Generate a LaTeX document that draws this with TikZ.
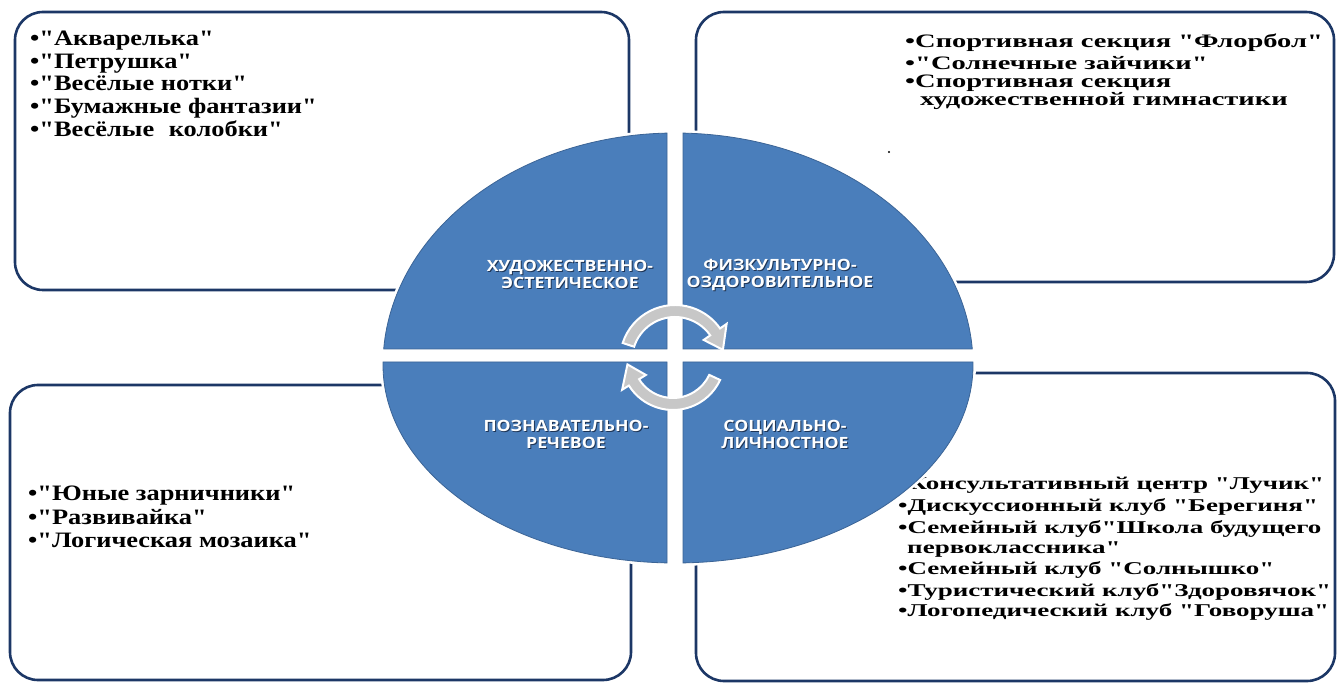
\documentclass[tikz,border=0pt]{standalone}
\usepackage{fontspec}
\newfontfamily\listfont{Liberation Serif}
\newfontfamily\labfont{Open Sans}
\usepackage{graphicx}
\definecolor{qblue}{HTML}{4A7EBB}
\definecolor{qedge}{HTML}{3B6496}
\definecolor{navy}{HTML}{1C3766}
\definecolor{shade}{HTML}{1E3556}
\newcommand\wideA[1]{\scalebox{1.2}[1]{#1}}
\newcommand\wideB[1]{\scalebox{1.5}[1]{#1}}
\newcommand\wideL[1]{\scalebox{1.14}[1]{#1}}
\tikzset{
 panel/.style={draw=navy, line width=2.6pt, rounded corners=28pt, fill=white, inner sep=0pt, outer sep=0pt},
 quad/.style={fill=qblue, draw=qedge, line width=0.8pt, preaction={draw=white, line width=6pt}},
 itemA/.style={anchor=base west, inner sep=0pt, font=\listfont\bfseries\fontsize{22}{22}\selectfont},
 itemB/.style={anchor=base west, inner sep=0pt, font=\listfont\bfseries\fontsize{19}{19}\selectfont},
 itemC/.style={anchor=base west, inner sep=0pt, font=\listfont\bfseries\fontsize{18}{18}\selectfont},
 lab/.style={align=center, text=white, font=\labfont\bfseries\fontsize{15.5}{17}\selectfont, inner sep=0pt},
 labsh/.style={lab, text=shade},
 cyc/.style={fill=black!22, draw=white, line width=2pt},
}
\begin{document}
\begin{tikzpicture}[x=1pt,y=1pt]
\useasboundingbox (0,0) rectangle (1337,683);
\fill[white] (0,0) rectangle (1337,683);

% panels
\node[panel, minimum width=614, minimum height=278] (tl) at (322,532) {};
\node[panel, minimum width=638, minimum height=270] (tr) at (1015,536) {};
\node[panel, minimum width=621, minimum height=295] (bl) at (320.5,150.5) {};
\node[panel, minimum width=639, minimum height=308] (br) at (1015.5,156) {};

% top-left list
\node[itemA] (tl1) at (30,637) {\wideA{•"Акварелька"}};
\node[itemA] (tl2) at (30,614) {\wideA{•"Петрушка"}};
\node[itemA] (tl3) at (30,592) {\wideA{•"Весёлые нотки"}};
\node[itemA] (tl4) at (30,569) {\wideA{•"Бумажные фантазии"}};
\node[itemA] (tl5) at (30,546) {\wideA{•"Весёлые\hspace{0.3em} колобки"}};

% top-right list
\node[itemB] (tr1) at (905,635) {\wideB{•Спортивная секция "Флорбол"}};
\node[itemB] (tr2) at (905,613) {\wideB{•"Солнечные зайчики"}};
\node[itemB] (tr3) at (905,595) {\wideB{•Спортивная секция}};
\node[itemB] (tr4) at (920,577) {\wideB{художественной гимнастики}};
\fill (889,531) circle (1.2);

% bottom-left list
\node[itemA] (bl1) at (28,183) {\wideA{•"Юные зарничники"}};
\node[itemA] (bl2) at (28,159) {\wideA{•"Развивайка"}};
\node[itemA] (bl3) at (28,136) {\wideA{•"Логическая мозаика"}};

% bottom-right list
\node[itemC] (br1) at (898,194) {\wideB{•Консультативный центр "Лучик"}};
\node[itemC] (br2) at (898,172) {\wideB{•Дискуссионный клуб "Берегиня"}};
\node[itemC] (br3) at (898,150) {\wideB{•Семейный клуб"Школа будущего}};
\node[itemC] (br4) at (907,130) {\wideB{первоклассника"}};
\node[itemC] (br5) at (898,109) {\wideB{•Семейный клуб "Солнышко"}};
\node[itemC] (br6) at (898,87) {\wideB{•Туристический клуб"Здоровячок"}};
\node[itemC] (br7) at (898,67) {\wideB{•Логопедический клуб "Говоруша"}};

% quadrants of the ellipse
\pgfmathsetmacro\ulA{180-asin(16/232)}
\pgfmathsetmacro\ulB{90+asin(8/292)}
\pgfmathsetmacro\urA{asin(16/232)}
\pgfmathsetmacro\urB{90-asin(8/298)}
\pgfmathsetmacro\llA{180-asin(3/198)}
\pgfmathsetmacro\llB{270-asin(8/292)}
\pgfmathsetmacro\lrA{asin(3/198)}
\pgfmathsetmacro\lrB{-90+asin(8/298)}
\path[quad] (667,334) -- ({675+292*cos(\ulA)},334) arc[start angle=\ulA, end angle=\ulB, x radius=292, y radius=232] -- cycle;
\path[quad] (683,334) -- ({675+298*cos(\urA)},334) arc[start angle=\urA, end angle=\urB, x radius=298, y radius=232] -- cycle;
\path[quad] (667,321) -- ({675+292*cos(\llA)},321) arc[start angle=\llA, end angle=\llB, x radius=292, y radius=198] -- cycle;
\path[quad] (683,321) -- ({675+298*cos(\lrA)},321) arc[start angle=\lrA, end angle=\lrB, x radius=298, y radius=198] -- cycle;

% quadrant labels
\node[labsh] (q1s) at (571,407.5) {\wideL{ХУДОЖЕСТВЕННО-}\\\wideL{ЭСТЕТИЧЕСКОЕ}};
\node[lab] (q1) at (570,408.5) {\wideL{ХУДОЖЕСТВЕННО-}\\\wideL{ЭСТЕТИЧЕСКОЕ}};
\node[labsh] (q2s) at (781,407.5) {\wideL{ФИЗКУЛЬТУРНО-}\\\wideL{ОЗДОРОВИТЕЛЬНОЕ}};
\node[lab] (q2) at (780,408.5) {\wideL{ФИЗКУЛЬТУРНО-}\\\wideL{ОЗДОРОВИТЕЛЬНОЕ}};
\node[labsh] (q3s) at (567,248) {\wideL{ПОЗНАВАТЕЛЬНО-}\\\wideL{РЕЧЕВОЕ}};
\node[lab] (q3) at (566,249) {\wideL{ПОЗНАВАТЕЛЬНО-}\\\wideL{РЕЧЕВОЕ}};
\node[labsh] (q4s) at (786,248) {\wideL{СОЦИАЛЬНО-}\\\wideL{ЛИЧНОСТНОЕ}};
\node[lab] (q4) at (785,249) {\wideL{СОЦИАЛЬНО-}\\\wideL{ЛИЧНОСТНОЕ}};

% cycle arrows
\path[cyc] ([shift={(675,323)}]162:55) arc[start angle=162, end angle=35, radius=55]
  -- ([shift={(675,323)}]35:63) -- ([shift={(675,323)}]12:49) -- ([shift={(675,323)}]35:35)
  -- ([shift={(675,323)}]35:43) arc[start angle=35, end angle=162, radius=43] -- cycle;
\path[cyc] ([shift={(673,325)}]-25:52) arc[start angle=-25, end angle=-148, radius=52]
  -- ([shift={(673,325)}]-148:60) -- ([shift={(673,325)}]-172:46) -- ([shift={(673,325)}]-148:32)
  -- ([shift={(673,325)}]-148:40) arc[start angle=-148, end angle=-25, radius=40] -- cycle;
\end{tikzpicture}
\end{document}
